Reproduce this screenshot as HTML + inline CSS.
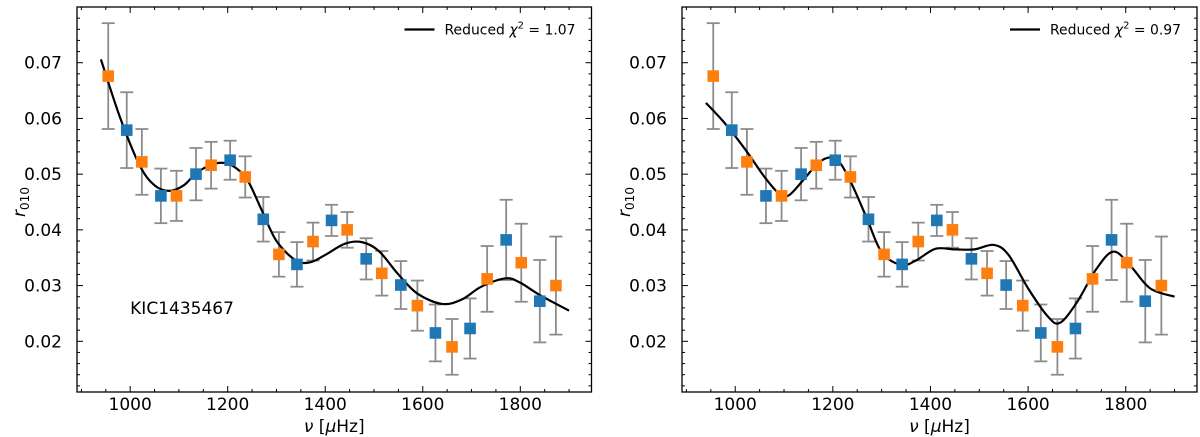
<!DOCTYPE html>
<html><head><meta charset="utf-8"><style>
html,body{margin:0;padding:0;background:#fff;}
svg{display:block;font-family:"DejaVu Sans","Liberation Sans",sans-serif;}
</style></head><body>
<svg id="fig" width="1200" height="437" viewBox="0 0 1200 437"></svg>
<script>
const freqs=[955,993,1024,1063,1095,1135,1166,1205,1236,1273,1305,1342,1375,1413,1445,1484,1516,1555,1589,1626,1660,1697,1732,1771,1802,1840,1873];
const r010=[0.0676,0.0579,0.0522,0.0461,0.0461,0.0500,0.0516,0.0525,0.0495,0.0419,0.0356,0.0338,0.0379,0.0417,0.0400,0.0348,0.0322,0.0301,0.0264,0.0215,0.0190,0.0223,0.0312,0.0382,0.0341,0.0272,0.0300];
const errs=[0.0095,0.0068,0.0059,0.0049,0.0045,0.0047,0.0042,0.0035,0.0037,0.0040,0.0040,0.0040,0.0034,0.0028,0.0032,0.0037,0.0040,0.0043,0.0045,0.0051,0.0050,0.0054,0.0059,0.0072,0.0070,0.0074,0.0088];
const degree=['o','b','o','b','o','b','o','b','o','b','o','b','o','b','o','b','o','b','o','b','o','b','o','b','o','b','o'];
const fitLeftX=[940,980,1020,1050,1080,1110,1140,1180,1210,1240,1270,1300,1340,1370,1400,1440,1475,1510,1550,1590,1640,1680,1720,1770,1800,1840,1900];
const fitLeftY=[0.0706,0.0600,0.0515,0.0480,0.0470,0.0480,0.0505,0.0520,0.0515,0.0490,0.0435,0.0380,0.0345,0.0342,0.0355,0.0375,0.0378,0.0362,0.0320,0.0285,0.0267,0.0275,0.0298,0.0313,0.0305,0.0283,0.0255];
const fitRightX=[940,980,1020,1060,1090,1110,1140,1170,1195,1215,1240,1270,1300,1340,1370,1410,1450,1490,1530,1560,1600,1640,1665,1700,1740,1775,1810,1850,1900];
const fitRightY=[0.0628,0.0590,0.0545,0.0495,0.0465,0.0462,0.0490,0.0520,0.0530,0.0520,0.0480,0.0420,0.0360,0.0337,0.0345,0.0366,0.0365,0.0365,0.0373,0.0355,0.0295,0.0245,0.0233,0.0270,0.0330,0.0361,0.0335,0.0295,0.0280];
const xTicks=[1000,1200,1400,1600,1800];
const yTicks=[0.02,0.03,0.04,0.05,0.06,0.07];
const chi=['1.07','0.97'];

const NS='http://www.w3.org/2000/svg';
const svg=document.getElementById('fig');
function mk(tag,attrs,parent){const e=document.createElementNS(NS,tag);for(const k in attrs)e.setAttribute(k,attrs[k]);(parent||svg).appendChild(e);return e;}

function panel(idx,left,right,fx,fy,withKic){
  const top=7,bottom=392;
  const xmin=891,xmax=1946,ymin=0.0109,ymax=0.0800;
  const sx=v=>left+(v-xmin)/(xmax-xmin)*(right-left);
  const sy=v=>bottom-(v-ymin)/(ymax-ymin)*(bottom-top);
  const g=mk('g',{});
  
  
  // ticks
  for(let v=900;v<=1900;v+=50){
    const X=sx(v),maj=(v%200===0);const L=maj?6:3;
    mk('line',{x1:X,x2:X,y1:bottom,y2:bottom-L,stroke:'#000','stroke-width':1},g);
    mk('line',{x1:X,x2:X,y1:top,y2:top+L,stroke:'#000','stroke-width':1},g);
  }
  for(let i=6;i<=40;i++){
    const v=i*0.002;if(v<ymin||v>ymax)continue;
    const Y=sy(v),maj=(i%5===0);const L=maj?6:3;
    mk('line',{x1:left,x2:left+L,y1:Y,y2:Y,stroke:'#000','stroke-width':1},g);
    mk('line',{x1:right,x2:right-L,y1:Y,y2:Y,stroke:'#000','stroke-width':1},g);
  }
  xTicks.forEach(v=>{const t=mk('text',{x:sx(v),y:410,'font-size':17,'text-anchor':'middle'},g);t.textContent=v;
    
    });
  yTicks.forEach(v=>{const t=mk('text',{x:left-15,y:sy(v)+6,'font-size':17,'text-anchor':'end'},g);t.textContent=v.toFixed(2);
    
    });
  const xl=mk('text',{x:(left+right)/2,y:432,'font-size':17,'text-anchor':'middle'},g);
  xl.innerHTML='<tspan font-style="italic">ν</tspan> [<tspan font-style="italic">μ</tspan>Hz]';
  
  
  const yl=mk('text',{x:0,y:0,'font-size':17,'text-anchor':'middle',transform:`translate(${left-52},202) rotate(-90)`},g);
  yl.innerHTML='<tspan font-style="italic">r</tspan><tspan font-size="12" dy="4">010</tspan>';
  
  
  // errorbars
  freqs.forEach((f,i)=>{
    const X=sx(f),y1=sy(r010[i]+errs[i]),y2=sy(r010[i]-errs[i]);
    const eb=mk('g',{stroke:'#8c8c8c','stroke-width':1.8},g);
    
    
    mk('line',{x1:X,x2:X,y1:y1,y2:y2},eb);
    mk('line',{x1:X-6.5,x2:X+6.5,y1:y1,y2:y1},eb);
    mk('line',{x1:X-6.5,x2:X+6.5,y1:y2,y2:y2},eb);
  });
  // fit curve catmull-rom
  const P=fx.map((v,i)=>[sx(v),sy(fy[i])]);
  let d=`M${P[0][0]},${P[0][1]}`;
  for(let i=0;i<P.length-1;i++){
    const p0=P[Math.max(0,i-1)],p1=P[i],p2=P[i+1],p3=P[Math.min(P.length-1,i+2)];
    const c1=[p1[0]+(p2[0]-p0[0])/6,p1[1]+(p2[1]-p0[1])/6];
    const c2=[p2[0]-(p3[0]-p1[0])/6,p2[1]-(p3[1]-p1[1])/6];
    d+=` C${c1[0]},${c1[1]} ${c2[0]},${c2[1]} ${p2[0]},${p2[1]}`;
  }
  const fit=mk('path',{d:d,fill:'none',stroke:'#000','stroke-width':2.2},g);
  
  
  // markers
  freqs.forEach((f,i)=>{
    const X=sx(f),Y=sy(r010[i]);
    const m=mk('rect',{x:X-5.8,y:Y-5.8,width:11.6,height:11.6,fill:degree[i]==='o'?'#ff7f0e':'#1f77b4'},g);
    
    
  });
  // legend
  const lg=mk('g',{},g);
  
  
  mk('line',{x1:right-187,x2:right-157,y1:29.5,y2:29.5,stroke:'#000','stroke-width':2.2},lg);
  const lt=mk('text',{x:right-147,y:34.5,'font-size':14,textLength:131,lengthAdjust:'spacingAndGlyphs'},lg);
  lt.innerHTML=`Reduced <tspan font-style="italic">χ</tspan><tspan font-size="10" dy="-6">2</tspan><tspan dy="6"> = ${chi[idx]}</tspan>`;
  if(withKic){
    const k=mk('text',{x:sx(1000),y:314,'font-size':17},g);k.textContent='KIC1435467';
    
    
  }
  mk('rect',{x:left,y:top,width:right-left,height:bottom-top,fill:'none',stroke:'#000','stroke-width':1.3},g);
}
panel(0,77,591.5,fitLeftX,fitLeftY,true);
panel(1,682,1197,fitRightX,fitRightY,false);
</script>
</body></html>
